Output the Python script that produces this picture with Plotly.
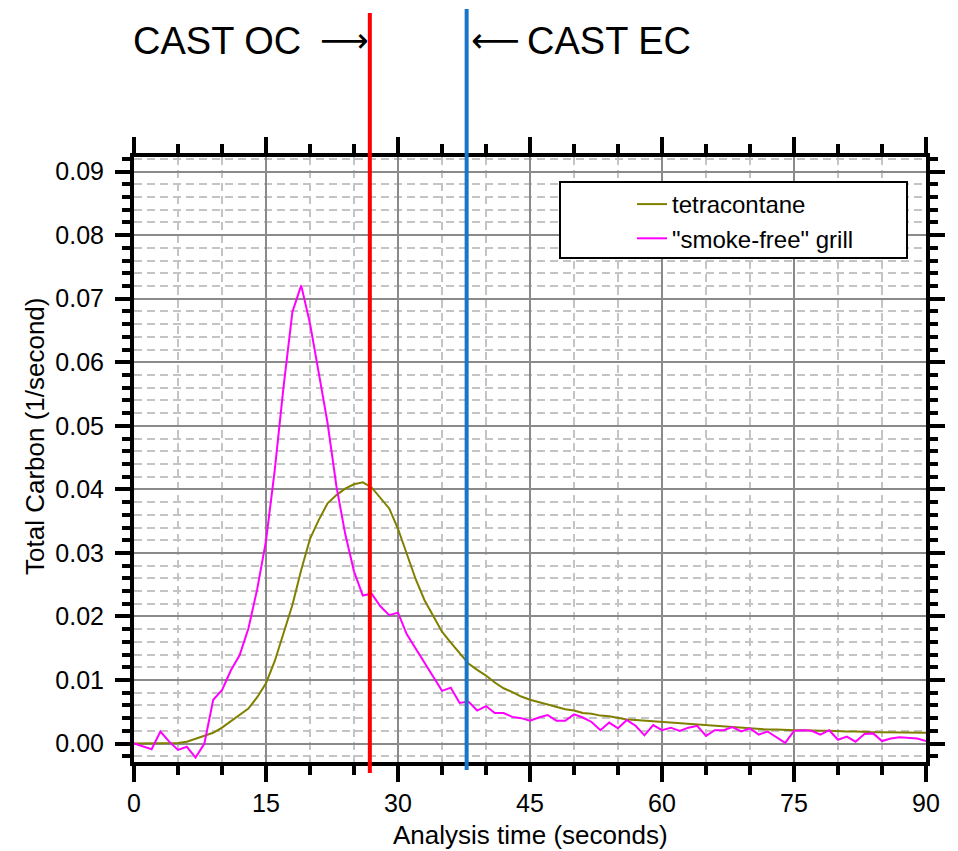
import plotly.graph_objects as go

# ---------------- data ----------------
time_s = list(range(0, 92))

tetracontane = [
    0.0000, 0.0000, 0.0000, 0.0000, 0.0000, 0.0001, 0.0003, 0.0008, 0.0013, 0.0017,
    0.0025, 0.0035, 0.0044, 0.0055, 0.0073, 0.0095, 0.0130, 0.0175, 0.0218, 0.0273,
    0.0322, 0.0352, 0.0378, 0.0391, 0.0401, 0.0408, 0.0411, 0.0403, 0.0386, 0.0370,
    0.0338, 0.0298, 0.0259, 0.0226, 0.0202, 0.0176, 0.0159, 0.0142, 0.0126, 0.0116,
    0.0107, 0.0096, 0.0087, 0.0081, 0.0074, 0.0069, 0.0065, 0.0061, 0.0058, 0.0054,
    0.0052, 0.0048, 0.0047, 0.0044, 0.0043, 0.0040, 0.0038, 0.0037, 0.0036, 0.0035,
    0.0034, 0.0033, 0.0032, 0.0030, 0.0029, 0.0028, 0.0027, 0.0026, 0.0025, 0.0024,
    0.0023, 0.0022, 0.0022, 0.0022, 0.0021, 0.0021, 0.0021, 0.0020, 0.0020, 0.0020,
    0.0019, 0.0019, 0.0019, 0.0018, 0.0018, 0.0018, 0.0018, 0.0017, 0.0017, 0.0017,
    0.0017, 0.0017,
]

smoke_free_grill = [
    0.0000, -0.0004, -0.0009, 0.0019, 0.0003, -0.0010, -0.0005, -0.0022, 0.0000, 0.0069,
    0.0084, 0.0115, 0.0139, 0.0181, 0.0243, 0.0319, 0.0431, 0.0562, 0.0679, 0.0721,
    0.0661, 0.0583, 0.0504, 0.0405, 0.0330, 0.0271, 0.0233, 0.0236, 0.0216, 0.0202,
    0.0206, 0.0172, 0.0150, 0.0129, 0.0105, 0.0083, 0.0088, 0.0064, 0.0066, 0.0052,
    0.0059, 0.0048, 0.0048, 0.0042, 0.0040, 0.0036, 0.0041, 0.0045, 0.0036, 0.0036,
    0.0046, 0.0041, 0.0034, 0.0021, 0.0033, 0.0024, 0.0037, 0.0028, 0.0013, 0.0029,
    0.0021, 0.0025, 0.0020, 0.0025, 0.0028, 0.0012, 0.0021, 0.0021, 0.0026, 0.0019,
    0.0024, 0.0014, 0.0019, 0.0010, 0.0001, 0.0020, 0.0021, 0.0020, 0.0014, 0.0021,
    0.0006, 0.0011, 0.0003, 0.0015, 0.0016, 0.0004, 0.0008, 0.0010, 0.0009, 0.0008,
    0.0004, 0.0011,
]

cast_oc_time = 26.8
cast_ec_time = 37.8

x_tick_vals = [0, 15, 30, 45, 60, 75, 90]
y_tick_vals = [0.00, 0.01, 0.02, 0.03, 0.04, 0.05, 0.06, 0.07, 0.08, 0.09]

# ---------------- figure ----------------
FONT = "Liberation Sans, Arial, sans-serif"

fig = go.Figure()
fig.add_trace(go.Scatter(x=time_s, y=tetracontane, mode="lines",
                         name="tetracontane",
                         line=dict(color="#808000", width=2)))
fig.add_trace(go.Scatter(x=time_s, y=smoke_free_grill, mode="lines",
                         name='"smoke-free" grill',
                         line=dict(color="#ff00ff", width=2)))

L, R, T, B = 134, 32, 157, 89
W, H = 958, 851
pw, ph = W - L - R, H - T - B

def px_x(p):
    return (p - L) / pw

def px_y(p):
    return (H - B - p) / ph

axis_common = dict(
    showline=True, linewidth=4, linecolor="black", mirror="ticks",
    ticks="outside", tickwidth=4, tickcolor="black",
    showgrid=True, gridcolor="#8a8a8a", gridwidth=2,
    zeroline=False, automargin=False,
)

fig.update_xaxes(
    range=[0, 90], tickmode="array", tickvals=x_tick_vals,
    ticktext=[str(v) for v in x_tick_vals], ticklen=16,
    minor=dict(dtick=5, tick0=0, ticklen=9, tickwidth=4, tickcolor="black",
               showgrid=True, gridcolor="#c4c4c4", gridwidth=2, griddash="8px,5px"),
    ticklabelstandoff=0,
    tickfont=dict(family=FONT, size=25, color="black"),
    **axis_common,
)
fig.update_yaxes(
    range=[-0.0029, 0.0923], tickmode="array", tickvals=y_tick_vals,
    ticktext=[f"{v:.2f}" for v in y_tick_vals], ticklen=15,
    minor=dict(dtick=0.002, tick0=0, ticklen=8, tickwidth=4, tickcolor="black",
               showgrid=True, gridcolor="#c4c4c4", gridwidth=2, griddash="8px,5px"),
    ticklabelstandoff=6,
    tickfont=dict(family=FONT, size=25, color="black"),
    **axis_common,
)

shapes = [
    # legend frame
    dict(type="rect", xref="paper", yref="paper",
         x0=px_x(560), x1=px_x(907), y0=px_y(258), y1=px_y(182),
         line=dict(color="black", width=2), fillcolor="white", layer="above"),
    # CAST OC line
    dict(type="line", xref="x", yref="paper", x0=cast_oc_time, x1=cast_oc_time,
         y0=px_y(773), y1=px_y(13), line=dict(color="#ff0000", width=4), layer="above"),
    # CAST EC line
    dict(type="line", xref="x", yref="paper", x0=cast_ec_time, x1=cast_ec_time,
         y0=px_y(770), y1=px_y(9), line=dict(color="#1a74c8", width=4), layer="above"),
]

annotations = [
    dict(text="Total Carbon (1/second)", xref="paper", yref="paper",
         x=px_x(35), y=px_y(437), xanchor="center", yanchor="middle",
         textangle=-90, showarrow=False,
         font=dict(family=FONT, size=26, color="black")),
    dict(text="Analysis time (seconds)", xref="paper", yref="paper",
         x=px_x(530), y=px_y(835), xanchor="center", yanchor="middle",
         showarrow=False,
         font=dict(family=FONT, size=26, color="black")),
    dict(text="CAST OC", xref="paper", yref="paper", x=px_x(131), y=px_y(41),
         xanchor="left", yanchor="middle", showarrow=False,
         font=dict(family=FONT, size=38, color="black")),
    dict(text="\u27f6", xref="paper", yref="paper", x=px_x(344), y=px_y(40),
         xanchor="center", yanchor="middle", showarrow=False,
         font=dict(family="DejaVu Sans", size=34, color="black")),
    dict(text="\u27f5", xref="paper", yref="paper", x=px_x(495), y=px_y(40),
         xanchor="center", yanchor="middle", showarrow=False,
         font=dict(family="DejaVu Sans", size=34, color="black")),
    dict(text="CAST EC", xref="paper", yref="paper", x=px_x(525), y=px_y(41),
         xanchor="left", yanchor="middle", showarrow=False,
         font=dict(family=FONT, size=38, color="black")),
]

fig.update_layout(
    width=W, height=H,
    margin=dict(l=L, r=R, t=T, b=B, pad=0, autoexpand=False),
    paper_bgcolor="white", plot_bgcolor="white",
    font=dict(family=FONT, color="black"),
    shapes=shapes, annotations=annotations,
    showlegend=True,
    legend=dict(x=px_x(632), y=px_y(182), xanchor="left", yanchor="top",
                bgcolor="rgba(0,0,0,0)", borderwidth=0,
                font=dict(family=FONT, size=24, color="black"),
                tracegroupgap=0),
    hovermode=False,
)

fig.write_html("out.html", config={"displayModeBar": False})
